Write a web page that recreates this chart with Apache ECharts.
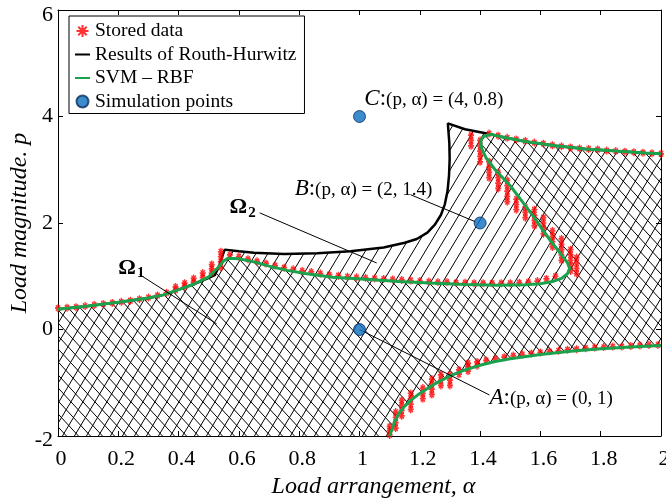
<!DOCTYPE html>
<html>
<head>
<meta charset="utf-8">
<script src="https://cdn.jsdelivr.net/npm/echarts@6/dist/echarts.min.js"></script>
<style>
html, body { margin: 0; padding: 0; background: #fff; }
#chart { width: 666px; height: 504px; }
</style>
</head>
<body>
<div id="chart"></div>
<script>
// ---- stability boundaries, (alpha, p) pairs ----
const svmUpper = [
  [0, 0.38], [0.1, 0.44], [0.2, 0.51], [0.3, 0.59], [0.35, 0.65], [0.4, 0.75], [0.45, 0.85],
  [0.5, 0.99], [0.53, 1.16], [0.55, 1.29], [0.565, 1.34], [0.6, 1.33], [0.65, 1.27], [0.7, 1.19],
  [0.76, 1.11], [0.82, 1.05], [0.91, 0.98], [1.02, 0.945], [1.13, 0.9], [1.25, 0.87], [1.35, 0.845],
  [1.46, 0.83], [1.55, 0.84], [1.6, 0.86], [1.64, 0.9], [1.67, 0.96], [1.69, 1.05], [1.697, 1.15],
  [1.69, 1.25], [1.67, 1.40], [1.64, 1.62], [1.61, 1.85], [1.58, 2.10], [1.54, 2.40], [1.50, 2.70],
  [1.45, 3.00], [1.42, 3.22], [1.405, 3.40], [1.402, 3.55], [1.413, 3.63], [1.435, 3.665],
  [1.47, 3.62], [1.55, 3.53], [1.65, 3.45], [1.75, 3.39], [1.85, 3.35], [1.95, 3.315], [2.0, 3.30]
];
const svmLower = [
  [1.10, -2.0], [1.115, -1.75], [1.13, -1.58], [1.15, -1.44], [1.17, -1.33], [1.20, -1.20],
  [1.25, -1.02], [1.30, -0.87], [1.35, -0.76], [1.40, -0.67], [1.45, -0.60], [1.50, -0.55],
  [1.60, -0.47], [1.70, -0.41], [1.80, -0.36], [1.90, -0.33], [2.0, -0.30]
];
const routhUpper = [
  [0, 0.38], [0.1, 0.44], [0.2, 0.51], [0.3, 0.59], [0.35, 0.65], [0.4, 0.75], [0.45, 0.85],
  [0.5, 0.97], [0.52, 1.02], [0.535, 1.2], [0.545, 1.38], [0.553, 1.5], [0.6, 1.47], [0.65, 1.44],
  [0.75, 1.42], [0.86, 1.43], [0.97, 1.47], [1.08, 1.54], [1.15, 1.63], [1.19, 1.70], [1.225, 1.82],
  [1.25, 1.97], [1.27, 2.15], [1.283, 2.35], [1.292, 2.6], [1.297, 2.9], [1.299, 3.2], [1.298, 3.5],
  [1.293, 3.87], [1.35, 3.76], [1.435, 3.665], [1.47, 3.62], [1.55, 3.53], [1.65, 3.45],
  [1.75, 3.39], [1.85, 3.35], [1.95, 3.315], [2.0, 3.30]
];

// ---- stored samples ----
const storedLeft = [
  [0, 0.40], [0.03, 0.41], [0.06, 0.42], [0.09, 0.44], [0.12, 0.46], [0.15, 0.48], [0.18, 0.50],
  [0.21, 0.52], [0.24, 0.54], [0.27, 0.57], [0.30, 0.60], [0.33, 0.64], [0.36, 0.69], [0.39, 0.74],
  [0.39, 0.80], [0.42, 0.81], [0.42, 0.87], [0.45, 0.89], [0.45, 0.96], [0.48, 0.98], [0.48, 1.06],
  [0.51, 1.06], [0.51, 1.14], [0.51, 1.22], [0.54, 1.17], [0.54, 1.27], [0.54, 1.37], [0.54, 1.46]
];
const storedMiddle = [
  [0.57, 1.40], [0.60, 1.37], [0.63, 1.32], [0.66, 1.28], [0.69, 1.24], [0.72, 1.20], [0.75, 1.16],
  [0.78, 1.13], [0.81, 1.10], [0.84, 1.08], [0.87, 1.05], [0.90, 1.03], [0.93, 1.01], [0.96, 0.99],
  [0.99, 0.98], [1.02, 0.97], [1.05, 0.96], [1.08, 0.95], [1.11, 0.94], [1.14, 0.93], [1.17, 0.92],
  [1.20, 0.91], [1.23, 0.90], [1.26, 0.89], [1.29, 0.89], [1.32, 0.88], [1.35, 0.88], [1.38, 0.87],
  [1.41, 0.87], [1.44, 0.87], [1.47, 0.87], [1.50, 0.87], [1.53, 0.88], [1.56, 0.89], [1.59, 0.91],
  [1.62, 0.95], [1.65, 1.00]
];
const storedDiagonal = [
  [1.37, 3.45], [1.37, 3.55], [1.37, 3.65],
  [1.40, 3.15], [1.40, 3.25], [1.40, 3.35], [1.40, 3.45], [1.40, 3.55],
  [1.43, 2.85], [1.43, 2.95], [1.43, 3.05], [1.43, 3.15],
  [1.46, 2.65], [1.46, 2.75], [1.46, 2.85], [1.46, 2.95],
  [1.49, 2.40], [1.49, 2.50], [1.49, 2.60], [1.49, 2.70], [1.49, 2.80],
  [1.52, 2.25], [1.52, 2.35], [1.52, 2.45],
  [1.55, 2.10], [1.55, 2.20], [1.55, 2.30],
  [1.58, 1.95], [1.58, 2.05], [1.58, 2.15], [1.58, 2.25],
  [1.61, 1.80], [1.61, 1.90], [1.61, 2.00], [1.61, 2.10],
  [1.64, 1.55], [1.64, 1.65], [1.64, 1.75], [1.64, 1.85],
  [1.67, 1.30], [1.67, 1.40], [1.67, 1.50], [1.67, 1.60], [1.67, 1.70],
  [1.70, 1.10], [1.70, 1.20], [1.70, 1.30], [1.70, 1.40], [1.70, 1.50],
  [1.72, 1.05], [1.72, 1.15], [1.72, 1.25], [1.72, 1.35]
];
const storedTop = [
  [1.43, 3.68], [1.46, 3.64], [1.49, 3.60], [1.52, 3.57], [1.55, 3.54], [1.58, 3.51], [1.61, 3.49],
  [1.64, 3.46], [1.67, 3.44], [1.70, 3.42], [1.73, 3.40], [1.76, 3.39], [1.79, 3.38], [1.82, 3.36],
  [1.85, 3.35], [1.88, 3.34], [1.91, 3.33], [1.94, 3.32], [1.97, 3.31], [2.00, 3.30]
];
const storedLower = [
  [1.10, -1.98], [1.10, -1.90], [1.10, -1.82],
  [1.12, -1.85], [1.12, -1.75], [1.12, -1.65], [1.12, -1.55],
  [1.14, -1.62], [1.14, -1.52], [1.14, -1.42], [1.14, -1.33],
  [1.17, -1.50], [1.17, -1.40], [1.17, -1.30], [1.17, -1.20],
  [1.21, -1.30], [1.21, -1.20], [1.21, -1.10],
  [1.24, -1.22], [1.24, -1.12], [1.24, -1.02], [1.24, -0.93],
  [1.27, -1.05], [1.27, -0.95], [1.27, -0.85],
  [1.30, -1.05], [1.30, -0.95], [1.30, -0.85],
  [1.33, -0.84], [1.33, -0.76],
  [1.36, -0.78], [1.36, -0.70], [1.36, -0.63],
  [1.39, -0.68], [1.39, -0.61],
  [1.42, -0.58], [1.45, -0.55], [1.48, -0.52], [1.51, -0.49], [1.54, -0.47], [1.57, -0.45],
  [1.60, -0.43], [1.63, -0.41], [1.66, -0.40], [1.69, -0.38], [1.72, -0.37], [1.75, -0.35],
  [1.78, -0.34], [1.81, -0.33], [1.84, -0.32], [1.87, -0.32], [1.90, -0.31], [1.93, -0.30],
  [1.96, -0.29], [1.99, -0.29]
];
const storedData = storedLeft.concat(storedMiddle, storedDiagonal, storedTop, storedLower);

// ---- simulation points A, B, C ----
const simulationPoints = [[1.0, 0.0], [1.4, 2.0], [1.0, 4.0]];
const pointLetters = ['A', 'B', 'C'];
const pointTexts = ['(p, α) = (0, 1)', '(p, α) = (2, 1.4)', '(p, α) = (4, 0.8)'];

// ---- axis ticks ----
const alphaTicks = [0, 0.2, 0.4, 0.6, 0.8, 1, 1.2, 1.4, 1.6, 1.8, 2];
const pTicks = [-2, 0, 2, 4, 6];

// ---- callouts: label anchors (bottom-left) and leader lines, in axis units ----
const calloutLabels = [
  { at: [1.431, -1.51], text: 0 },
  { at: [0.785, 2.43], text: 1 },
  { at: [1.016, 4.12], text: 2 }
];
const regionLabels = [
  { at: [0.2, 0.95], sub: '1' },
  { at: [0.569, 2.08], sub: '2' }
];
const leaderLines = [
  [[1.0, 0.0], [1.431, -1.23]],
  [[1.170, 2.53], [1.386, 2.02]],
  [[0.669, 2.19], [1.057, 1.25]],
  [[0.271, 1.03], [0.526, 0.107]]
];

// ---- hatch tiles ----
function hatchTile(w, h, dir) {
  const c = document.createElement('canvas');
  c.width = w; c.height = h;
  const g = c.getContext('2d');
  g.strokeStyle = '#000';
  g.lineWidth = 1;
  g.beginPath();
  for (let k = -1; k <= 1; k++) {
    if (dir === '/') { g.moveTo(k * w - w, 2 * h); g.lineTo(k * w + 2 * w, -h); }
    else { g.moveTo(k * w - w, -h); g.lineTo(k * w + 2 * w, 2 * h); }
  }
  g.stroke();
  return c;
}
const slashTile = hatchTile(12, 20, '/');
const backTile = hatchTile(12, 13, '\\');

// Omega1: below the SVM boundary; Omega2: below the Routh-Hurwitz boundary
const lowerBack = svmLower.slice().reverse();
const omega1 = [[0, -2]].concat(svmUpper, lowerBack);
const omega2 = [[0, -2]].concat(routhUpper, lowerBack);

function regionSeries(poly, tile) {
  return {
    type: 'custom', coordinateSystem: 'cartesian2d', silent: true, z: 1,
    data: [[0, 0]],
    renderItem: function (params, api) {
      return {
        type: 'polygon',
        shape: { points: poly.map(function (p) { return api.coord(p); }) },
        style: { fill: { image: tile, repeat: 'repeat' }, stroke: null }
      };
    }
  };
}

const serif = "'Liberation Serif', 'Times New Roman', serif";
const asterisk = 'path://M5,0L5,10M0,5L10,5M1.5,1.5L8.5,8.5M1.5,8.5L8.5,1.5';
const lineIcon = 'path://M0,0H30V4H0Z';

const chart = echarts.init(document.getElementById('chart'), null, { renderer: 'canvas' });

const axisCommon = {
  type: 'value',
  axisLine: { show: true, onZero: false, lineStyle: { color: '#000', width: 1 } },
  axisTick: { show: true, inside: true, length: 5, lineStyle: { color: '#000', width: 1 } },
  splitLine: { show: false }
};

chart.setOption({
  animation: false,
  backgroundColor: '#fff',
  textStyle: { fontFamily: serif },
  grid: { left: 58, right: 5, top: 10, bottom: 68, containLabel: false, outerBoundsMode: 'none' },
  legend: {
    orient: 'vertical', left: 69, top: 16,
    padding: [5, 8, 2, 6], itemGap: 3.5, itemWidth: 15, itemHeight: 12,
    borderColor: '#000', borderWidth: 1, backgroundColor: '#fff',
    textStyle: { fontFamily: serif, fontSize: 19.5, color: '#000' },
    data: [
      { name: 'Stored data' },
      { name: 'Results of Routh-Hurwitz', icon: lineIcon, itemStyle: { color: '#000' } },
      { name: 'SVM – RBF', icon: lineIcon, itemStyle: { color: '#1aa24c' } },
      { name: 'Simulation points' }
    ]
  },
  xAxis: [
    Object.assign({}, axisCommon, {
      min: 0, max: 2, interval: 0.2, position: 'bottom',
      axisLabel: {
        fontFamily: serif, fontSize: 22, color: '#000', margin: 12, padding: [0, 0, 0, 6],
        formatter: function (v) { return String(alphaTicks[Math.round(v / 0.2)]); }
      },
      name: 'Load arrangement, α', nameLocation: 'middle', nameGap: 38,
      nameTextStyle: { fontFamily: serif, fontSize: 24, fontStyle: 'italic', color: '#000', padding: [0, 0, 0, 28] }
    }),
    Object.assign({}, axisCommon, {
      min: 0, max: 2, interval: 0.2, position: 'top', axisLabel: { show: false }
    })
  ],
  yAxis: [
    Object.assign({}, axisCommon, {
      min: -2, max: 6, interval: 2, position: 'left',
      axisLabel: {
        fontFamily: serif, fontSize: 22, color: '#000', margin: 5,
        formatter: function (v) {
          const s = String(pTicks[Math.round((v + 2) / 2)]);
          if (v === 6) return '{t|' + s + '}';
          if (v === -2) return '{b|' + s + '}';
          return s;
        },
        rich: {
          t: { fontFamily: serif, fontSize: 22, padding: [10, 0, 0, 0] },
          b: { fontFamily: serif, fontSize: 22, padding: [8, 0, 0, 0] }
        }
      },
      name: 'Load magnitude. p', nameLocation: 'middle', nameGap: 26, nameMoveOverlap: false,
      nameTextStyle: { fontFamily: serif, fontSize: 24, fontStyle: 'italic', color: '#000' }
    }),
    Object.assign({}, axisCommon, {
      min: -2, max: 6, interval: 2, position: 'right', axisLabel: { show: false }
    })
  ],
  series: [
    regionSeries(omega2, slashTile),
    regionSeries(omega1, backTile),
    {
      name: 'Results of Routh-Hurwitz', type: 'line', data: routhUpper, z: 3,
      symbol: 'none', lineStyle: { color: '#000', width: 2.5 }, itemStyle: { color: '#000' }
    },
    {
      name: 'Stored data', type: 'scatter', data: storedData, z: 4,
      symbol: asterisk, symbolSize: [6, 8],
      itemStyle: { color: 'rgba(0,0,0,0)', borderColor: '#ff0000', borderWidth: 1.5 }
    },
    {
      name: 'SVM – RBF', type: 'line', data: svmUpper, z: 5,
      symbol: 'none', lineStyle: { color: '#1aa24c', width: 3 }, itemStyle: { color: '#1aa24c' }
    },
    {
      name: 'SVM – RBF', type: 'line', data: svmLower, z: 5,
      symbol: 'none', lineStyle: { color: '#1aa24c', width: 3 }, itemStyle: { color: '#1aa24c' }
    },
    {
      type: 'lines', coordinateSystem: 'cartesian2d', z: 6, silent: true,
      data: leaderLines.map(function (l) { return { coords: l }; }),
      lineStyle: { color: '#000', width: 1, opacity: 1 }
    },
    {
      name: 'Simulation points', type: 'scatter', data: simulationPoints, z: 7,
      symbol: 'circle', symbolSize: 12,
      itemStyle: { color: '#0b6fc0', borderColor: '#0a2d5c', borderWidth: 1 }
    },
    {
      type: 'custom', coordinateSystem: 'cartesian2d', silent: true, z: 8,
      data: calloutLabels.map(function (c) { return c.at.concat([c.text]); }),
      renderItem: function (params, api) {
        const pt = api.coord([api.value(0), api.value(1)]);
        const i = api.value(2);
        return {
          type: 'text', x: pt[0], y: pt[1],
          style: {
            text: '{i|' + pointLetters[i] + '}{c|:}{s|' + pointTexts[i] + '}',
            align: 'left', verticalAlign: 'bottom', fill: '#000',
            rich: {
              i: { fontFamily: serif, fontSize: 23, fontStyle: 'italic', verticalAlign: 'bottom' },
              c: { fontFamily: serif, fontSize: 23, verticalAlign: 'bottom' },
              s: { fontFamily: serif, fontSize: 19, verticalAlign: 'bottom', padding: [0, 0, 1, 0] }
            }
          }
        };
      }
    },
    {
      type: 'custom', coordinateSystem: 'cartesian2d', silent: true, z: 8,
      data: regionLabels.map(function (r, k) { return r.at.concat([k]); }),
      renderItem: function (params, api) {
        const pt = api.coord([api.value(0), api.value(1)]);
        const k = api.value(2);
        return {
          type: 'text', x: pt[0], y: pt[1],
          style: {
            text: '{o|Ω}{s|' + regionLabels[k].sub + '}',
            align: 'left', verticalAlign: 'bottom', fill: '#000',
            rich: {
              o: { fontFamily: serif, fontSize: 22, fontWeight: 'bold', lineHeight: 22, verticalAlign: 'top' },
              s: { fontFamily: serif, fontSize: 15, fontWeight: 'bold', lineHeight: 15, verticalAlign: 'top', padding: [9, 0, 0, 1] }
            }
          }
        };
      }
    }
  ]
});
</script>
</body>
</html>
